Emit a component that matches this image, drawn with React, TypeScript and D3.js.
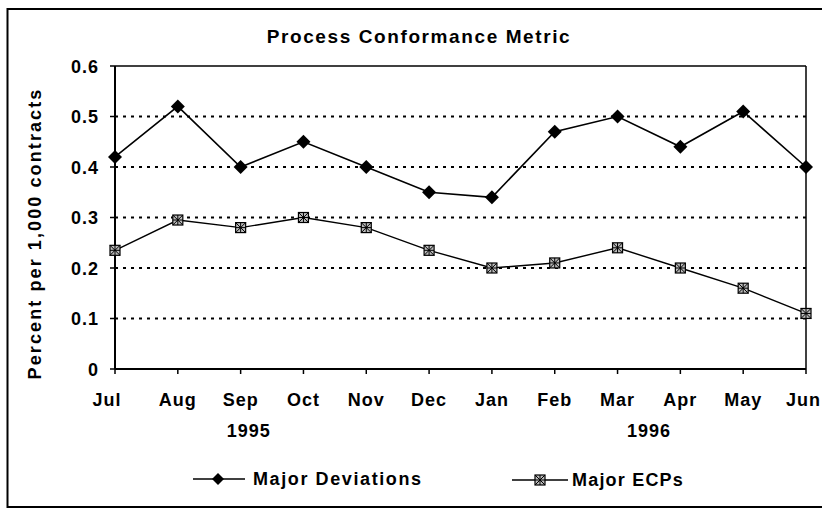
import React from "react";
import * as d3 from "d3";

const months = ["Jul", "Aug", "Sep", "Oct", "Nov", "Dec", "Jan", "Feb", "Mar", "Apr", "May", "Jun"];
const majorDeviations = [0.42, 0.52, 0.4, 0.45, 0.4, 0.35, 0.34, 0.47, 0.5, 0.44, 0.51, 0.4];
const majorECPs = [0.235, 0.295, 0.28, 0.3, 0.28, 0.235, 0.2, 0.21, 0.24, 0.2, 0.16, 0.11];
const yTicks = [0, 0.1, 0.2, 0.3, 0.4, 0.5, 0.6];
const gridValues = [0.1, 0.2, 0.3, 0.4, 0.5];
const yearLabels = [
  { label: "1995", at: 2, offset: 0.13 },
  { label: "1996", at: 8, offset: 0.5 },
];
const seriesNames = ["Major Deviations", "Major ECPs"];

const W = 822;
const H = 510;
const left = 115;
const right = 806;
const top = 66;
const bottom = 369;
const FONT = "'Liberation Sans', Arial, sans-serif";

export default function App() {
  const x = d3.scalePoint<string>().domain(months).range([left, right]);
  const y = d3.scaleLinear().domain([0, 0.6]).range([bottom, top]);
  const step = x.step();

  const line = d3
    .line<number>()
    .x((_, i) => x(months[i]) as number)
    .y((d) => y(d));

  const diamond = (cx: number, cy: number, r = 7) =>
    `M${cx},${cy - r}L${cx + r},${cy}L${cx},${cy + r}L${cx - r},${cy}Z`;

  const ecpMarker = (cx: number, cy: number, key: string) => {
    const s = 5;
    return (
      <g key={key}>
        <rect x={cx - s} y={cy - s} width={2 * s} height={2 * s} fill="#bbb" stroke="#000" strokeWidth={1.2} />
        <path
          d={`M${cx - s},${cy - s}L${cx + s},${cy + s}M${cx + s},${cy - s}L${cx - s},${cy + s}M${cx},${cy - s}L${cx},${cy + s}M${cx - s},${cy}L${cx + s},${cy}`}
          stroke="#000"
          strokeWidth={1}
        />
      </g>
    );
  };

  const labelStyle = { fontFamily: FONT, fontWeight: 700 as const, fill: "#000" };

  const monthLabelProps = (i: number) => {
    const px = x(months[i]) as number;
    if (i === 0) return { x: px - 8, anchor: "middle" as const };
    if (i === months.length - 1) return { x: 821, anchor: "end" as const };
    return { x: px, anchor: "middle" as const };
  };

  return (
    <svg width={W} height={H} style={{ position: "absolute", left: 0, top: 0, background: "#fff" }}>
      <rect x={0} y={0} width={W} height={H} fill="#fff" />
      {/* outer frame */}
      <rect x={7.5} y={9} width={830} height={498} fill="none" stroke="#000" strokeWidth={2} />
      {/* title */}
      <text x={419} y={43} textAnchor="middle" fontSize={19} letterSpacing={1.6} style={labelStyle}>
        Process Conformance Metric
      </text>
      {/* grid lines */}
      {gridValues.map((v) => (
        <line
          key={v}
          x1={left}
          x2={right}
          y1={y(v)}
          y2={y(v)}
          stroke="#000"
          strokeWidth={2}
          strokeDasharray="3 5"
        />
      ))}
      {/* plot border top/right */}
      <line x1={left} x2={right} y1={top} y2={top} stroke="#000" strokeWidth={1.5} />
      <line x1={right} x2={right} y1={top} y2={bottom} stroke="#000" strokeWidth={1.5} />
      {/* axes */}
      <line x1={left} x2={left} y1={top} y2={bottom} stroke="#000" strokeWidth={2} />
      <line x1={left} x2={right} y1={bottom} y2={bottom} stroke="#000" strokeWidth={2} />
      {/* y ticks */}
      {yTicks.map((v) => (
        <g key={v}>
          <line x1={left - 5} x2={left} y1={y(v)} y2={y(v)} stroke="#000" strokeWidth={1.5} />
          <text x={99} y={y(v) + 6.5} textAnchor="end" fontSize={18} letterSpacing={1} style={labelStyle}>
            {v === 0 ? "0" : v.toFixed(1)}
          </text>
        </g>
      ))}
      {/* x ticks */}
      {months.map((m, i) => {
        const p = monthLabelProps(i);
        return (
          <g key={m}>
            <line x1={x(m)} x2={x(m)} y1={bottom} y2={bottom + 5} stroke="#000" strokeWidth={1.5} />
            <text x={p.x} y={406} textAnchor={p.anchor} fontSize={18} letterSpacing={1} style={labelStyle}>
              {m}
            </text>
          </g>
        );
      })}
      {yearLabels.map((yl) => (
        <text
          key={yl.label}
          x={(x(months[yl.at]) as number) + yl.offset * step}
          y={437}
          textAnchor="middle"
          fontSize={18}
          letterSpacing={1}
          style={labelStyle}
        >
          {yl.label}
        </text>
      ))}
      {/* y axis title */}
      <text
        transform={`translate(41,${(top + bottom) / 2 + 16}) rotate(-90)`}
        textAnchor="middle"
        fontSize={18}
        letterSpacing={2.1}
        style={labelStyle}
      >
        Percent per 1,000 contracts
      </text>
      {/* series lines */}
      <path d={line(majorDeviations) || ""} fill="none" stroke="#000" strokeWidth={1.6} />
      <path d={line(majorECPs) || ""} fill="none" stroke="#000" strokeWidth={1.4} />
      {majorDeviations.map((v, i) => (
        <path key={"d" + i} d={diamond(x(months[i]) as number, y(v))} fill="#000" />
      ))}
      {majorECPs.map((v, i) => ecpMarker(x(months[i]) as number, y(v), "e" + i))}
      {/* legend */}
      <line x1={193} x2={245} y1={479} y2={479} stroke="#000" strokeWidth={1.6} />
      <path d={diamond(218, 479, 6)} fill="#000" />
      <text x={253} y={485} fontSize={18} letterSpacing={1.6} style={labelStyle}>
        {seriesNames[0]}
      </text>
      <line x1={512} x2={568} y1={480} y2={480} stroke="#000" strokeWidth={1.4} />
      {ecpMarker(540, 480, "legend-ecp")}
      <text x={572} y={486} fontSize={18} letterSpacing={1.2} style={labelStyle}>
        {seriesNames[1]}
      </text>
    </svg>
  );
}
